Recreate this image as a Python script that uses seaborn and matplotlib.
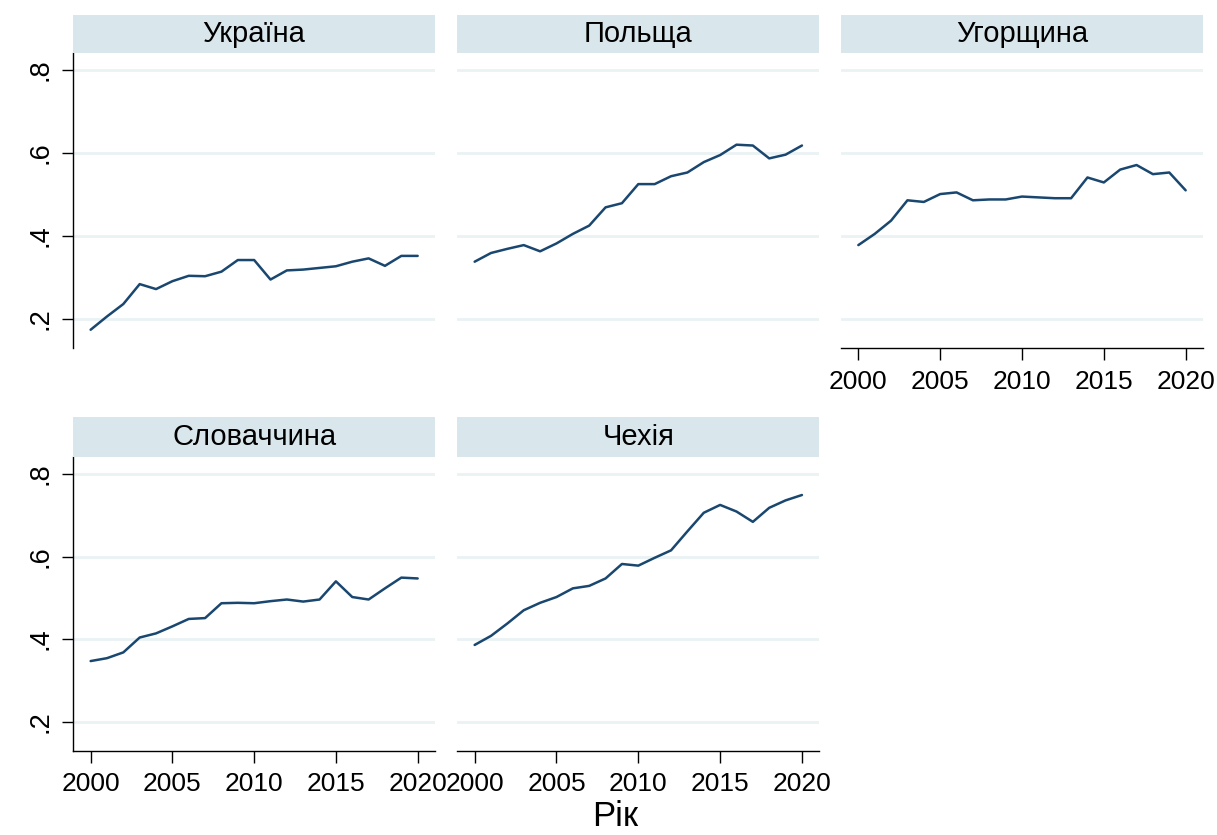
import numpy as np
import pandas as pd
import matplotlib
matplotlib.use("Agg")
import matplotlib.pyplot as plt
import seaborn as sns

years = list(range(2000, 2021))
countries = ["Україна", "Польща", "Угорщина", "Словаччина", "Чехія"]

ukraine = [0.174, 0.206, 0.236, 0.284, 0.272, 0.291, 0.304, 0.303, 0.314, 0.342, 0.342,
           0.295, 0.317, 0.319, 0.323, 0.327, 0.338, 0.346, 0.328, 0.352, 0.352]
poland = [0.338, 0.359, 0.369, 0.378, 0.363, 0.382, 0.405, 0.425, 0.469, 0.479, 0.525,
          0.525, 0.544, 0.553, 0.578, 0.595, 0.620, 0.618, 0.587, 0.596, 0.618]
hungary = [0.378, 0.405, 0.437, 0.486, 0.482, 0.501, 0.505, 0.486, 0.488, 0.488, 0.495,
           0.493, 0.491, 0.491, 0.541, 0.529, 0.560, 0.571, 0.549, 0.553, 0.510]
slovakia = [0.347, 0.354, 0.368, 0.404, 0.414, 0.431, 0.449, 0.451, 0.487, 0.488, 0.487,
            0.492, 0.496, 0.491, 0.496, 0.540, 0.502, 0.496, 0.523, 0.549, 0.547]
czechia = [0.386, 0.408, 0.438, 0.470, 0.488, 0.502, 0.523, 0.529, 0.547, 0.582, 0.578,
           0.597, 0.615, 0.661, 0.706, 0.725, 0.709, 0.684, 0.718, 0.736, 0.749]

yticks = [0.2, 0.4, 0.6, 0.8]
ytick_labels = [".2", ".4", ".6", ".8"]
xticks = [2000, 2005, 2010, 2015, 2020]
xlabel = "Рік"

series = [ukraine, poland, hungary, slovakia, czechia]
df = pd.DataFrame({
    "country": np.repeat(countries, len(years)),
    "year": years * len(countries),
    "value": np.concatenate(series),
})

sns.set_style("white")
plt.rcParams["font.family"] = ["Liberation Sans", "DejaVu Sans"]
plt.rcParams["text.color"] = "black"
plt.rcParams["xtick.color"] = "black"
plt.rcParams["ytick.color"] = "black"
plt.rcParams["axes.labelcolor"] = "black"

W, H = 1217, 835
fig = plt.figure(figsize=(W / 100, H / 100), dpi=100)

cols = [(73.3, 435.0), (457.3, 819.3), (841.0, 1203.0)]
rows = [((53.0, 348.0), (15.0, 52.7)), ((457.0, 750.7), (417.0, 456.7))]
line_color = "#1A476F"
strip_color = "#D9E6EB"
grid_color = "#EAF2F3"

def frac(x0, x1, y0, y1):
    return [x0 / W, 1 - y1 / H, (x1 - x0) / W, (y1 - y0) / H]

for i, c in enumerate(countries):
    r, k = divmod(i, 3)
    (px0, px1) = cols[k]
    (py0, py1), (sy0, sy1) = rows[r]
    ax = fig.add_axes(frac(px0, px1, py0, py1))
    sub = df[df["country"] == c]
    sns.lineplot(data=sub, x="year", y="value", ax=ax, color=line_color, linewidth=1.8)
    ax.set_xlim(1998.94, 2021.06)
    ax.set_ylim(0.13, 0.841)
    ax.set_yticks(yticks)
    ax.set_xticks(xticks)
    for yv in yticks:
        ax.axhline(yv, color=grid_color, lw=2.0, zorder=0)
    ax.set_xlabel("")
    ax.set_ylabel("")
    for s in ["top", "right"]:
        ax.spines[s].set_visible(False)
    left = (k == 0)
    bottom = (i >= 2)
    ax.spines["left"].set_visible(left)
    ax.spines["bottom"].set_visible(bottom)
    ax.spines["left"].set_linewidth(1.0)
    ax.spines["bottom"].set_linewidth(1.0)
    ax.spines["left"].set_color("black")
    ax.spines["bottom"].set_color("black")
    if left:
        ax.set_yticklabels(ytick_labels, rotation=90, va="center", fontsize=19.5)
        ax.tick_params(axis="y", direction="out", length=8, width=1.0, pad=6, left=True, color="black")
    else:
        ax.tick_params(axis="y", left=False, labelleft=False)
    if bottom:
        ax.set_xticklabels([str(t) for t in xticks], fontsize=19)
        ax.tick_params(axis="x", direction="out", length=8.5, width=1.0, pad=7, bottom=True, color="black")
    else:
        ax.tick_params(axis="x", bottom=False, labelbottom=False)
    ax.set_facecolor("white")

    sax = fig.add_axes(frac(px0, px1, sy0, sy1))
    sax.set_facecolor(strip_color)
    sax.set_xticks([])
    sax.set_yticks([])
    for s in sax.spines.values():
        s.set_visible(False)
    sax.text(0.5, 0.5, c, ha="center", va="center", fontsize=21, transform=sax.transAxes)

fig.text(615 / W, 1 - 833 / H, xlabel, ha="center", va="bottom", fontsize=25)

fig.savefig("out.png", dpi=100, facecolor="white")
